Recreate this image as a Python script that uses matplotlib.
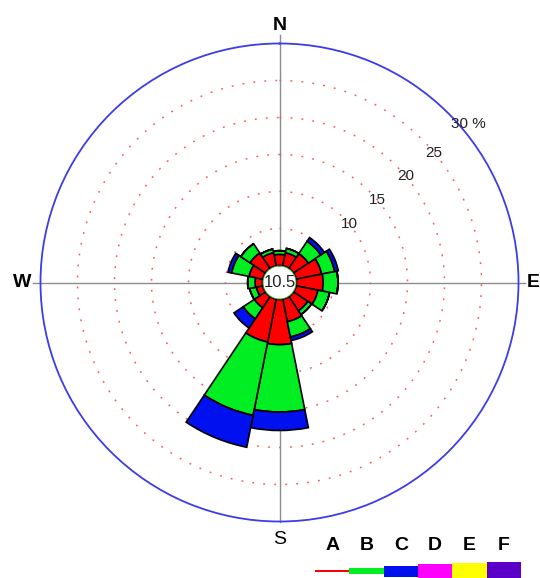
import numpy as np
import matplotlib
matplotlib.use("Agg")
import matplotlib.pyplot as plt

plt.rcParams['font.family'] = ['Liberation Sans', 'DejaVu Sans']

# Wind directions (16-point compass) and frequency (%) per stability class
directions = ["N", "NNE", "NE", "ENE", "E", "ESE", "SE", "SSE",
              "S", "SSW", "SW", "WSW", "W", "WNW", "NW", "NNW"]
class_A = [1.5, 1.8, 2.4, 3.5, 3.6, 3.0, 2.3, 3.1, 6.1, 5.9, 1.8, 0.9, 1.0, 1.9, 2.5, 1.8]
class_B = [0.5, 0.6, 2.0, 1.8, 2.0, 1.6, 0.6, 2.1, 9.1, 10.1, 1.8, 0.9, 1.0, 2.4, 1.5, 0.5]
class_C = [0.0, 0.0, 0.6, 0.5, 0.0, 0.0, 0.0, 0.5, 2.5, 4.4, 1.5, 0.0, 0.0, 0.5, 0.0, 0.0]
calm = 10.5

classes = ["A", "B", "C", "D", "E", "F"]
class_colors = ["#FF0000", "#00EE22", "#0010EE", "#FF00FF", "#FFFF00", "#5A00C8"]
legend_heights = [2, 6, 11, 14, 16, 18]

ring_values = [5, 10, 15, 20, 25]
ring_labels = ["10", "15", "20", "25", "30 %"]
ring_label_pos = [10, 15, 20, 25, 31]

fig = plt.figure(figsize=(5.4, 5.78), dpi=100)
ax = fig.add_axes([40.5 / 540, 56.5 / 578, 478 / 540, 478 / 578], projection='polar')
ax.set_theta_zero_location('N')
ax.set_theta_direction(-1)
ax.set_ylim(0, 30)
ax.set_rorigin(-2.3)
ax.grid(False)
ax.set_xticks([])
ax.set_yticks([])
ax.spines['polar'].set_color('#3C3CE8')
ax.spines['polar'].set_linewidth(1.3)
ax.spines['inner'].set_color('#1FAA1F')
ax.spines['inner'].set_linewidth(1.4)

# dotted percentage rings
th = np.linspace(0, 2 * np.pi, 721)
for rv in ring_values:
    ax.plot(th, np.full_like(th, rv), color='#FF5A5A', lw=1.1,
            linestyle=(0, (1.2, 6)), zorder=1)

# cross-hair axes (outside the calm circle)
for ang, rmax in [(0, 31.2), (90, 30.9), (180, 30.1), (270, 31.0)]:
    ax.plot([np.radians(ang)] * 2, [0, rmax], color='#8C8C8C', lw=1.0,
            zorder=1.5, clip_on=False)

# stacked rose bars
theta = np.radians(np.arange(len(directions)) * 22.5)
width = np.radians(22.5)
bottom = np.zeros(len(directions))
for vals, col in zip([class_A, class_B, class_C], class_colors[:3]):
    vals = np.array(vals)
    ax.bar(theta, vals, width=width, bottom=bottom, color=col,
           edgecolor='black', linewidth=1.2, zorder=3)
    bottom += vals

# ring labels
for lab, pos in zip(ring_labels, ring_label_pos):
    ax.text(np.radians(50), pos, lab, ha='center', va='center',
            fontsize=11, color='#222222', zorder=4)

# compass letters
for lab, ang, r, wt in [("N", 0, 32.4, 'bold'), ("E", 90, 32.0, 'bold'),
                        ("S", 180, 32.5, 'normal'), ("W", 270, 32.5, 'bold')]:
    ax.text(np.radians(ang), r, lab, ha='center', va='center',
            fontsize=14, fontweight=wt, color='black', clip_on=False)

# calm percentage in the centre
ax.text(0.5, 0.5, f"{calm}", transform=ax.transAxes, ha='center', va='center',
        fontsize=12, color='#222222', zorder=5)

# stability class legend
lax = fig.add_axes([315 / 540, 0, 206 / 540, 48 / 578])
lax.set_xlim(0, 6)
lax.set_ylim(48, 0)
lax.axis('off')
for i, (lab, col, h) in enumerate(zip(classes, class_colors, legend_heights)):
    lax.bar(i + 0.5, h, width=1.0, bottom=41 - h / 2, color=col, linewidth=0)
    lax.text(i + 0.5, 15, lab, ha='center', va='center', fontsize=14,
             fontweight='bold', color='black')

fig.savefig("out.png", dpi=100)
